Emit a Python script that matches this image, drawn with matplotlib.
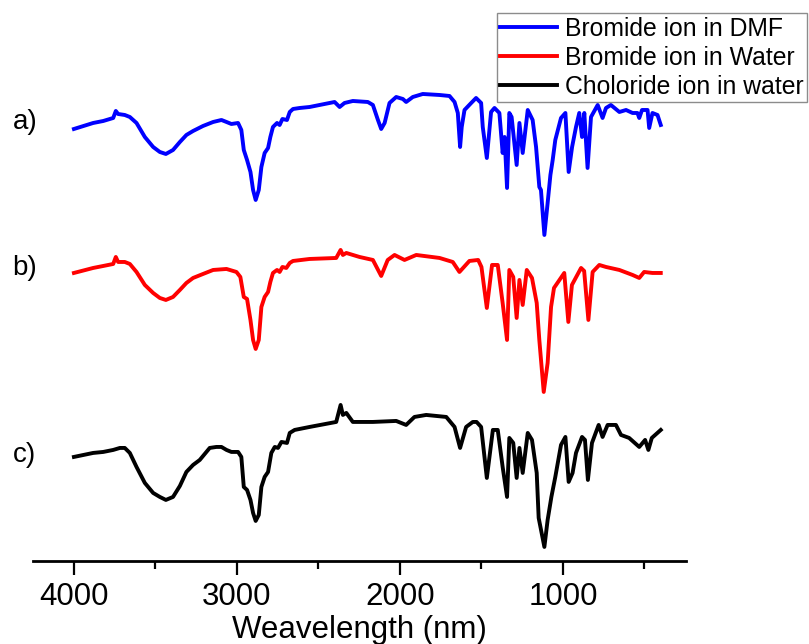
import matplotlib
matplotlib.use("Agg")
import matplotlib.pyplot as plt
from matplotlib.ticker import MultipleLocator

plt.rcParams['font.family'] = ['Liberation Sans', 'DejaVu Sans']

# Wavenumber / intensity (a.u., already vertically offset)
wn_dmf = [4000, 3882, 3820, 3759, 3743, 3729, 3688, 3657, 3616, 3565, 3514, 3473, 3436, 3392,
          3350, 3310, 3269, 3208, 3146, 3095, 3064, 3034, 2993, 2973, 2958, 2938, 2917, 2901,
          2885, 2866, 2850, 2830, 2809, 2795, 2779, 2754, 2738, 2721, 2693, 2676, 2656, 2615,
          2554, 2493, 2401, 2370, 2340, 2289, 2197, 2166, 2135, 2115, 2094, 2064, 2023, 1982,
          1962, 1921, 1860, 1757, 1696, 1665, 1645, 1631, 1621, 1604, 1563,
          1533, 1502, 1492, 1467, 1441, 1420, 1390, 1370, 1358, 1343, 1329, 1315, 1284, 1267,
          1247, 1216, 1186, 1165, 1145, 1135, 1114, 1094, 1077, 1063, 1047, 1012, 985, 965,
          944, 920, 900, 883, 869, 849, 828, 787, 757, 736, 706, 654, 613, 573, 543, 532,
          515, 481, 471, 451, 420, 400]
in_dmf = [432, 438, 440, 443, 450, 447, 446, 444, 438, 424, 414, 409, 407, 411,
          419, 426, 430, 435, 439, 441, 439, 437, 438, 431, 411, 401, 389, 371,
          361, 371, 394, 408, 413, 424, 434, 438, 436, 442, 441, 449, 452, 453,
          454, 456, 459, 454, 458, 460, 459, 456, 441, 432, 438, 458, 464, 462,
          459, 464, 467, 466, 465, 459, 448, 414, 434, 451, 458,
          463, 458, 434, 403, 449, 453, 448, 408, 424, 373, 448, 444, 396, 438,
          408, 451, 441, 414, 374, 371, 326, 358, 386, 401, 421, 443, 448, 389,
          414, 434, 448, 424, 448, 393, 444, 456, 443, 453, 456, 449, 451, 448, 448, 443,
          451, 451, 433, 448, 446, 436]

wn_water = [4000, 3882, 3820, 3759, 3743, 3729, 3688, 3657, 3616, 3565, 3514, 3473, 3436, 3392,
            3350, 3310, 3269, 3208, 3146, 3064, 3003, 2979, 2958, 2938, 2917, 2901, 2885, 2866,
            2850, 2830, 2809, 2795, 2779, 2754, 2738, 2721, 2697, 2676, 2656, 2554, 2391, 2364,
            2350, 2329, 2248, 2166, 2115, 2075, 2033, 1972, 1900, 1757, 1676, 1635,
            1574, 1520, 1500, 1467, 1435, 1400, 1370, 1343, 1329, 1305, 1284, 1267, 1247, 1222,
            1190, 1161, 1145, 1118, 1094, 1073, 1055, 992, 967, 945, 889, 870, 844, 818, 777,
            736, 654, 573, 532, 502, 451, 400]
in_water = [288, 293, 295, 297, 304, 299, 299, 297, 289, 276, 268, 263, 261, 264,
            271, 278, 283, 287, 291, 292, 289, 284, 264, 262, 241, 221, 212, 221,
            254, 264, 269, 279, 288, 291, 289, 294, 293, 298, 300, 302, 303, 311,
            306, 308, 304, 301, 285, 301, 306, 301, 306, 303, 299, 289,
            300, 301, 294, 253, 296, 296, 258, 221, 291, 284, 243, 281, 256, 291,
            283, 258, 221, 169, 198, 254, 273, 288, 239, 276, 293, 290, 241, 289, 296,
            294, 291, 286, 283, 289, 288, 288]

wn_cl = [4000, 3882, 3820, 3759, 3718, 3688, 3657, 3616, 3565, 3514, 3473, 3436, 3392, 3350,
         3310, 3269, 3228, 3167, 3126, 3095, 3064, 3034, 2993, 2973, 2958, 2938, 2917, 2901,
         2885, 2866, 2850, 2830, 2809, 2789, 2768, 2748, 2727, 2693, 2676, 2646, 2554, 2391,
         2364, 2350, 2329, 2289, 2166, 2023, 1962, 1911, 1839, 1716, 1665, 1631,
         1594, 1553, 1530, 1502, 1467, 1430, 1400, 1370, 1343, 1329, 1305, 1284, 1267, 1247,
         1216, 1190, 1161, 1149, 1114, 1094, 1071, 1047, 1012, 985, 965, 941, 920, 883, 865,
         847, 822, 781, 757, 726, 675, 644, 594, 532, 496, 476, 455, 400]
in_cl = [104, 108, 109, 111, 113, 113, 108, 94, 78, 68, 64, 61, 64, 75,
         89, 96, 101, 113, 114, 114, 111, 109, 109, 104, 74, 71, 61, 48,
         40, 46, 74, 84, 89, 108, 114, 113, 119, 118, 128, 131, 134, 139,
         156, 146, 148, 139, 139, 140, 136, 144, 146, 144, 134, 113,
         134, 139, 139, 134, 83, 131, 131, 94, 64, 123, 118, 83, 113, 88,
         128, 121, 88, 43, 14, 41, 64, 84, 116, 124, 79, 88, 108, 124, 121,
         81, 118, 136, 124, 136, 136, 126, 123, 114, 121, 111, 123, 131]

series_labels = ['Bromide ion in DMF', 'Bromide ion in Water', 'Choloride ion in water']
series_colors = ['#0000ff', '#ff0000', '#000000']
panel_tags = ['a)', 'b)', 'c)']
x_ticks = [4000, 3000, 2000, 1000]
x_label = 'Weavelength (nm)'

fig = plt.figure(figsize=(8.09, 6.44), dpi=100)
ax = fig.add_axes([0.041, 0.129, 0.807, 0.871])

for wn, iv, lab, col in zip([wn_dmf, wn_water, wn_cl], [in_dmf, in_water, in_cl],
                            series_labels, series_colors):
    ax.plot(wn, iv, color=col, lw=2.8, label=lab, solid_joinstyle='round')

ax.set_xlim(4250, 245)
ax.set_ylim(0, 561)
ax.set_xticks(x_ticks)
ax.xaxis.set_minor_locator(MultipleLocator(500))
ax.set_yticks([])
for s in ['left', 'right', 'top']:
    ax.spines[s].set_visible(False)
ax.spines['bottom'].set_linewidth(2.0)
ax.tick_params(axis='x', which='major', length=10, width=1.6, labelsize=22.5, pad=5)
ax.tick_params(axis='x', which='minor', length=6, width=1.6)
ax.set_xlabel(x_label, fontsize=22.5, labelpad=2)

for tag, yy in zip(panel_tags, [122, 268, 455]):
    fig.text(25 / 809, 1 - yy / 644, tag, fontsize=20, ha='center', va='center')

leg = fig.legend(loc='upper right', bbox_to_anchor=(807 / 809, 1 - 13 / 644),
                 fontsize=17.8, frameon=True, fancybox=False, borderaxespad=0,
                 handlelength=2.3, handletextpad=0.3, labelspacing=0.2, borderpad=0.15)
leg.get_frame().set_edgecolor('#707070')
leg.get_frame().set_linewidth(1.0)
for h in leg.get_lines():
    h.set_linewidth(2.8)

fig.savefig('out.png', dpi=100)
